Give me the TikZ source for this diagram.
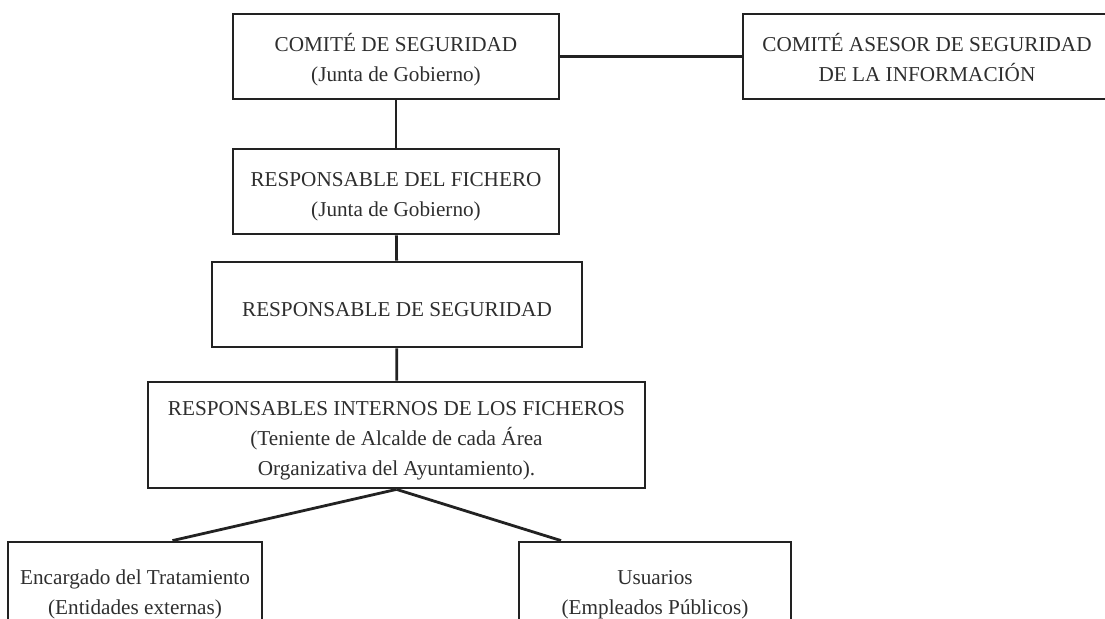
\documentclass[tikz,border=0pt]{standalone}
\usepackage{fontspec}
\setmainfont{Liberation Serif}
\usetikzlibrary{calc}
\definecolor{ink}{HTML}{222222}
\definecolor{txt}{HTML}{2E2E2E}

\begin{document}
\begin{tikzpicture}[x=0.5pt,y=-0.5pt,
		caja/.style={draw=ink, line width=1.4pt, text=txt, align=center, inner sep=0pt,
			font=\fontsize{10.6}{15}\selectfont},
		una/.style={text height=12pt, text depth=0pt},
		dos/.style={text height=25pt, text depth=0pt},
		tres/.style={text height=41pt, text depth=0pt},
		linea/.style={draw=ink, line width=1.4pt}]
		\useasboundingbox (0,0) rectangle (1105,619);
		\clip (0,0) rectangle (1105,619);
		\node[caja, dos, minimum width=163pt, minimum height=42.5pt] (comite) at (396,56.5) {COMITÉ DE SEGURIDAD\\(Junta de Gobierno)};
		\node[caja, dos, minimum width=184pt, minimum height=42.5pt] (asesor) at (927,56.5) {COMITÉ ASESOR DE SEGURIDAD\\DE LA INFORMACIÓN};
		\node[caja, dos, minimum width=163pt, minimum height=42.5pt] (fichero) at (396,191.5) {RESPONSABLE DEL FICHERO\\(Junta de Gobierno)};
		\node[caja, una, minimum width=185pt, minimum height=42.5pt] (seguridad) at (397,304.5) {RESPONSABLE DE SEGURIDAD};
		\node[caja, tres, minimum width=248.5pt, minimum height=53pt] (internos) at (396.5,435) {RESPONSABLES INTERNOS DE LOS FICHEROS\\(Teniente de Alcalde de cada Área\\Organizativa del Ayuntamiento).};
		\node[caja, dos, minimum width=127pt, minimum height=48pt] (encargado) at (135,590) {Encargado del Tratamiento\\(Entidades externas)};
		\node[caja, dos, minimum width=136pt, minimum height=48pt] (usuarios) at (655,590) {Usuarios\\(Empleados Públicos)};
		% enlaces
		\draw[linea] (comite) -- (asesor);
		\draw[linea] (comite) -- (fichero);
		\draw[linea] (fichero) -- (seguridad);
		\draw[linea] (seguridad) -- (internos);
		\draw[linea] (internos.south) -- ($(encargado.north west)!0.646!(encargado.north east)$);
		\draw[linea] (internos.south) -- ($(usuarios.north west)!0.158!(usuarios.north east)$);
	\end{tikzpicture}
\end{document}
